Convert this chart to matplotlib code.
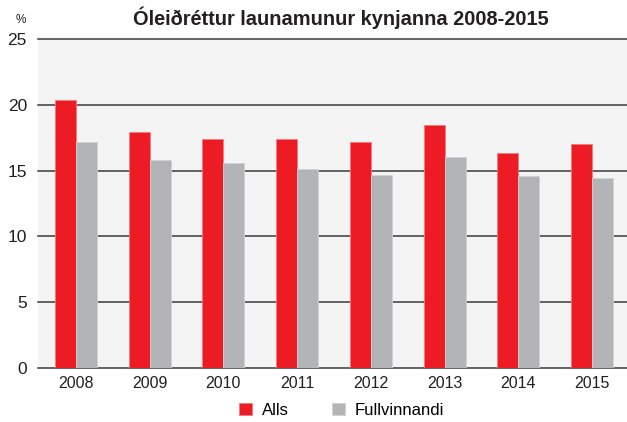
import matplotlib
matplotlib.use("Agg")
import matplotlib.pyplot as plt
import numpy as np

years = ["2008", "2009", "2010", "2011", "2012", "2013", "2014", "2015"]
alls = [20.4, 17.9, 17.4, 17.4, 17.2, 18.5, 16.3, 17.0]
fullvinnandi = [17.2, 15.8, 15.6, 15.1, 14.7, 16.0, 14.6, 14.4]
yticks = [0, 5, 10, 15, 20, 25]

plt.rcParams['font.family'] = ['Liberation Sans', 'DejaVu Sans']

fig = plt.figure(figsize=(6.27, 4.22), dpi=100)
ax = fig.add_axes([0.0606, 0.129, 0.9394, 0.778])
ax.set_facecolor('#f4f4f4')

x = np.arange(len(years))
w = 0.285
ax.bar(x - w/2, alls, width=w, color='#ed1c24', edgecolor='#f47a80', linewidth=0.6, zorder=3, label='Alls')
ax.bar(x + w/2, fullvinnandi, width=w, color='#b3b4b7', edgecolor='#d0d1d3', linewidth=0.6, zorder=3, label='Fullvinnandi')

ax.set_xlim(-0.516, 7.476)
ax.set_ylim(0, 25)
ax.set_yticks(yticks)
ax.set_yticklabels([str(t) for t in yticks], fontsize=12.5)
ax.set_xticks(x)
ax.set_xticklabels(years, fontsize=11.5)
ax.tick_params(axis='both', length=0, pad=6, colors='#231f20')
ax.tick_params(axis='y', pad=8)
for y in yticks:
    ax.axhline(y, color='#3a3a3a', linewidth=1.1, zorder=2, clip_on=False)
for s in ax.spines.values():
    s.set_visible(False)

fig.text(0.025, 0.953, '%', fontsize=8.5, color='#231f20', ha='left', va='center')
fig.text(0.543, 0.958, 'Óleiðréttur launamunur kynjanna 2008-2015', fontsize=14.4,
         fontweight='bold', ha='center', va='center', color='#231f20')

leg = fig.legend(loc='center', bbox_to_anchor=(0.545, 0.028), ncol=2, frameon=False,
                 fontsize=12, handlelength=0.75, handleheight=0.75, columnspacing=2.6,
                 handletextpad=0.6)
fig.savefig('out.png', dpi=100)
